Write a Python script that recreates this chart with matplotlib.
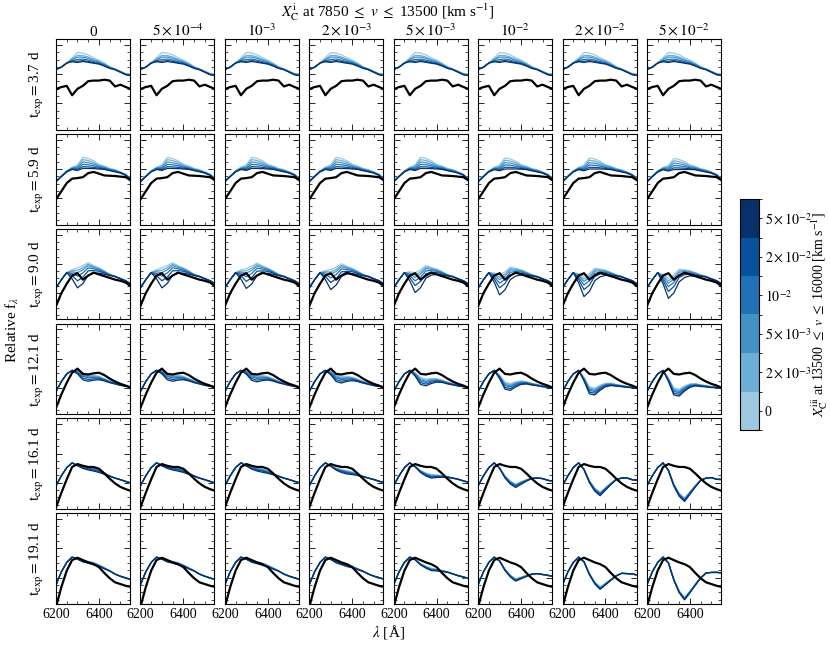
import numpy as np
import matplotlib.pyplot as plt
from matplotlib.colors import ListedColormap, BoundaryNorm
from matplotlib.cm import ScalarMappable
from matplotlib.ticker import MultipleLocator

plt.rcParams['font.family'] = 'serif'
plt.rcParams['font.serif'] = ['Liberation Serif', 'DejaVu Serif']
plt.rcParams['mathtext.fontset'] = 'stix'

# wavelength grid [A]
wave = [6200, 6225, 6250, 6275, 6300, 6325, 6350, 6375, 6400, 6425, 6450, 6475, 6500, 6525, 6550]

epochs = ['3.7', '5.9', '9.0', '12.1', '16.1', '19.1']
inner_labels = ['0', r'$5\times10^{-4}$', r'$10^{-3}$', r'$2\times10^{-3}$',
                r'$5\times10^{-3}$', r'$10^{-2}$', r'$2\times10^{-2}$', r'$5\times10^{-2}$']
outer_labels = ['0', r'$2\times10^{-3}$', r'$5\times10^{-3}$', r'$10^{-2}$',
                r'$2\times10^{-2}$', r'$5\times10^{-2}$']
line_colors = ['#9ecae1', '#6baed6', '#4292c6', '#2171b5', '#08519c', '#08306b']

# observed spectrum, one row per epoch
obs_flux = [
    [0.745, 0.78, 0.80, 0.64, 0.75, 0.80, 0.88, 0.89, 0.89, 0.905, 0.89, 0.79, 0.82, 0.78, 0.745],
    [0.48, 0.62, 0.76, 0.835, 0.845, 0.86, 0.93, 0.95, 0.92, 0.89, 0.885, 0.88, 0.87, 0.86, 0.80],
    [0.28, 0.50, 0.66, 0.80, 0.84, 0.73, 0.80, 0.85, 0.82, 0.79, 0.76, 0.73, 0.71, 0.68, 0.61],
    [0.16, 0.39, 0.59, 0.76, 0.83, 0.74, 0.73, 0.75, 0.76, 0.72, 0.66, 0.61, 0.57, 0.54, 0.50],
    [0.08, 0.33, 0.56, 0.77, 0.82, 0.79, 0.77, 0.77, 0.74, 0.66, 0.57, 0.49, 0.43, 0.39, 0.36],
    [0.0, 0.34, 0.62, 0.80, 0.84, 0.80, 0.76, 0.73, 0.68, 0.58, 0.49, 0.42, 0.39, 0.36, 0.34],
]

# model spectrum without carbon, one row per epoch
model_base = [
    [1.08, 1.12, 1.19, 1.28, 1.37, 1.36, 1.33, 1.28, 1.24, 1.19, 1.13, 1.09, 1.05, 1.01, 1.00],
    [0.80, 0.88, 0.97, 1.03, 1.07, 1.20, 1.18, 1.14, 1.08, 1.05, 1.01, 0.99, 0.95, 0.91, 0.83],
    [0.59, 0.73, 0.85, 0.90, 0.93, 0.97, 1.02, 0.97, 0.93, 0.88, 0.82, 0.79, 0.75, 0.71, 0.65],
    [0.44, 0.61, 0.74, 0.80, 0.80, 0.76, 0.73, 0.72, 0.70, 0.66, 0.62, 0.59, 0.56, 0.54, 0.52],
    [0.45, 0.62, 0.76, 0.84, 0.80, 0.78, 0.77, 0.76, 0.72, 0.67, 0.62, 0.58, 0.55, 0.52, 0.49],
    [0.38, 0.60, 0.76, 0.85, 0.82, 0.79, 0.78, 0.76, 0.72, 0.67, 0.62, 0.56, 0.52, 0.49, 0.46],
]

# shape of the C II 6580 feature (1 = deepest point), one row per epoch
c_trough = [
    [0, 0, 0, 0.4, 1.0, 0.85, 0.75, 0.55, 0.4, 0.3, 0.18, 0.08, 0.1, 0.12, 0.15],
    [0.1, 0.05, 0.1, 0.2, 0.5, 1.0, 0.9, 0.7, 0.42, 0.3, 0.2, 0.2, 0.1, 0.1, 0.1],
    [0, 0, 0, 0.46, 1.0, 0.9, 0.63, 0.39, 0.26, 0.17, 0.06, 0.03, 0.02, 0, 0],
    [0, 0, 0, 0, 0.5, 1.0, 0.97, 0.72, 0.5, 0.33, 0.25, 0.19, 0.14, 0.1, 0.05],
    [0, 0, 0, 0, 0.16, 0.58, 0.86, 1.0, 0.72, 0.42, 0.14, 0, -0.07, -0.07, -0.12],
    [0, 0, 0, 0, 0.11, 0.52, 0.84, 1.0, 0.75, 0.47, 0.2, -0.03, -0.11, -0.16, -0.19],
]

# depth of the feature per column (inner carbon) and per colour (outer carbon)
inner_depth = [
    [0, 0, 0, 0, 0, 0, 0, 0],
    [0, 0, 0, 0, 0, 0.01, 0.01, 0.02],
    [0, 0, 0.01, 0.03, 0.08, 0.12, 0.15, 0.18],
    [0, 0, 0.01, 0.03, 0.08, 0.16, 0.24, 0.26],
    [0, 0, 0.02, 0.05, 0.12, 0.28, 0.42, 0.52],
    [0, 0, 0.01, 0.03, 0.10, 0.28, 0.42, 0.60],
]
outer_depth = [
    [0, 0.05, 0.08, 0.12, 0.15, 0.17],
    [0, 0.04, 0.08, 0.12, 0.16, 0.19],
    [0, 0.04, 0.08, 0.14, 0.22, 0.34],
    [0, 0.02, 0.04, 0.06, 0.09, 0.12],
    [0, 0.01, 0.02, 0.03, 0.04, 0.06],
    [0, 0.01, 0.015, 0.02, 0.03, 0.04],
]

fig, axes = plt.subplots(6, 8, figsize=(8.3, 6.45), sharex=True, sharey=True)
fig.subplots_adjust(left=0.0675, right=0.8687, top=0.9395, bottom=0.0636,
                    wspace=0.14, hspace=0.045)

for r in range(6):
    base = np.array(model_base[r])
    trough = np.array(c_trough[r])
    for c in range(8):
        ax = axes[r, c]
        for l in range(6):
            depth = inner_depth[r][c] + outer_depth[r][l]
            ax.plot(wave, base - depth * trough, color=line_colors[l], lw=0.9)
        ax.plot(wave, obs_flux[r], color='k', lw=1.6)

        ax.set_xlim(6200, 6545)
        ax.set_ylim(0.05, 1.6)
        ax.xaxis.set_major_locator(MultipleLocator(200))
        ax.xaxis.set_minor_locator(MultipleLocator(50))
        ax.yaxis.set_major_locator(MultipleLocator(0.5))
        ax.yaxis.set_minor_locator(MultipleLocator(0.125))
        ax.tick_params(which='both', direction='in', top=True, right=True,
                       labelleft=False, labelsize=10, pad=3)
        ax.tick_params(which='major', length=4, width=0.6)
        ax.tick_params(which='minor', length=2, width=0.5)
        for s in ax.spines.values():
            s.set_linewidth(0.8)
        if r == 0:
            ax.set_title(inner_labels[c], fontsize=11, pad=2)
        if c == 0:
            ax.set_ylabel(r'$\mathrm{t}_{\mathrm{exp}}=$' + epochs[r] + ' d',
                          fontsize=11, labelpad=7)

fig.text(388 / 830, 1 - 12 / 645,
         r'$X_{\rm C}^{\rm i}$ at 7850 $\leq\ v\ \leq$ 13500 [km s$^{-1}$]',
         ha='center', va='center', fontsize=11)
fig.text(388 / 830, 1 - 632 / 645, r'$\lambda$ [Å]', ha='center', va='center', fontsize=11)
fig.text(12 / 830, 1 - 330 / 645, r'Relative f$_\lambda$', rotation=90,
         ha='center', va='center', fontsize=11)

cax = fig.add_axes([740 / 830, 1 - 430 / 645, 19 / 830, 231 / 645])
cmap = ListedColormap(line_colors)
norm = BoundaryNorm(np.arange(7), 6)
cb = fig.colorbar(ScalarMappable(norm=norm, cmap=cmap), cax=cax,
                  ticks=np.arange(6) + 0.5)
cb.set_ticklabels(outer_labels)
cb.ax.tick_params(labelsize=10, length=2, width=0.6, pad=2)
cb.outline.set_linewidth(0.8)
cb.set_label(r'$X_{\rm C}^{\rm iii}$ at 13500 $\leq\ v\ \leq$ 16000 [km s$^{-1}$]',
             fontsize=10, labelpad=-1)

fig.savefig('out.png', dpi=100)
